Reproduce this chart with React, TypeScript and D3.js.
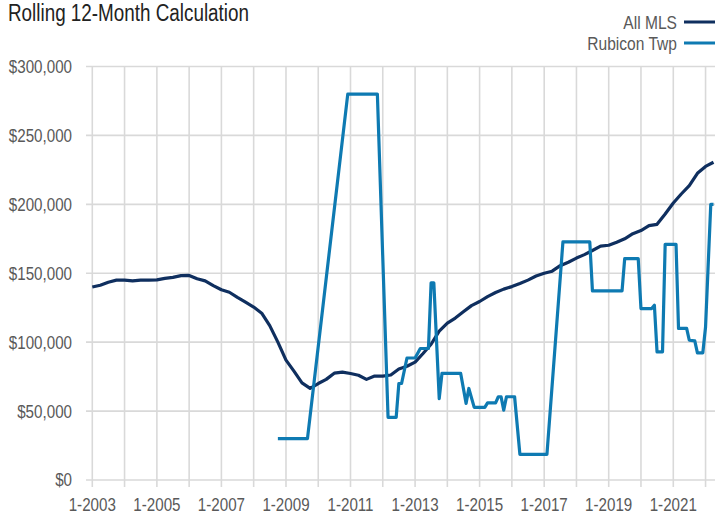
import { useEffect, useRef } from 'react'
import * as d3 from 'd3'

// Rolling 12-month average sale price
const MLS_POINTS: [string, number][] = [
  ['2003-01', 140000], ['2003-04', 141300], ['2003-07', 143500], ['2003-10', 145000],
  ['2004-01', 145000], ['2004-04', 144500], ['2004-07', 145000], ['2004-10', 145000],
  ['2005-01', 145200], ['2005-04', 146300], ['2005-07', 147000], ['2005-10', 148300],
  ['2006-01', 148400], ['2006-04', 146000], ['2006-07', 144500], ['2006-10', 141000],
  ['2007-01', 138000], ['2007-04', 136200], ['2007-07', 132500], ['2007-10', 129000],
  ['2008-01', 125500], ['2008-04', 121000], ['2008-07', 112000], ['2008-10', 100000],
  ['2009-01', 87000], ['2009-04', 79000], ['2009-07', 70500], ['2009-10', 66500],
  ['2010-01', 70000], ['2010-04', 73000], ['2010-07', 77500], ['2010-10', 78300],
  ['2011-01', 77300], ['2011-04', 76000], ['2011-07', 73000], ['2011-10', 75400],
  ['2012-01', 75400], ['2012-04', 76200], ['2012-07', 80500], ['2012-10', 82500],
  ['2013-01', 85500], ['2013-04', 91800], ['2013-07', 98500], ['2013-10', 108000],
  ['2014-01', 113800], ['2014-04', 117500], ['2014-07', 122000], ['2014-10', 126500],
  ['2015-01', 129500], ['2015-04', 133000], ['2015-07', 136000], ['2015-10', 138500],
  ['2016-01', 140300], ['2016-04', 142500], ['2016-07', 145000], ['2016-10', 148000],
  ['2017-01', 150000], ['2017-04', 151500], ['2017-07', 155500], ['2017-10', 158000],
  ['2018-01', 161000], ['2018-04', 163500], ['2018-07', 166500], ['2018-10', 169700],
  ['2019-01', 170300], ['2019-04', 172500], ['2019-07', 175000], ['2019-10', 178700],
  ['2020-01', 181000], ['2020-04', 184500], ['2020-07', 185500], ['2020-10', 193000],
  ['2021-01', 201000], ['2021-04', 207500], ['2021-07', 213500], ['2021-10', 222500],
  ['2022-01', 227500], ['2022-04', 230500],
]

// Rubicon Twp: sparse months, Excel joins the gaps with straight segments
const RUBICON_POINTS: [string, number][] = [
  ['2008-10', 30000], ['2009-09', 30000], ['2010-12', 280000], ['2011-11', 280000],
  ['2012-03', 45500], ['2012-06', 45500], ['2012-07', 70000], ['2012-08', 70000],
  ['2012-10', 88500], ['2013-01', 88500], ['2013-03', 95400], ['2013-06', 95400],
  ['2013-07', 143000], ['2013-08', 143000], ['2013-10', 59000], ['2013-11', 77300],
  ['2014-06', 77300], ['2014-08', 55600], ['2014-09', 66400], ['2014-11', 52700],
  ['2015-03', 52700], ['2015-04', 56000], ['2015-07', 56000], ['2015-08', 60400],
  ['2015-09', 60400], ['2015-10', 50700], ['2015-11', 60400], ['2016-02', 60400],
  ['2016-04', 18600], ['2017-02', 18600], ['2017-08', 172700], ['2018-06', 172700],
  ['2018-07', 137200], ['2019-06', 137200], ['2019-07', 160600], ['2019-12', 160600],
  ['2020-01', 124400], ['2020-05', 124400], ['2020-06', 126800], ['2020-07', 93000],
  ['2020-09', 93000], ['2020-10', 171000], ['2021-02', 171000], ['2021-03', 110000],
  ['2021-06', 110000], ['2021-07', 101400], ['2021-09', 101000], ['2021-10', 92200],
  ['2021-12', 92200], ['2022-01', 111000], ['2022-03', 200000], ['2022-04', 200000],
]

const Y_TICKS = [0, 50000, 100000, 150000, 200000, 250000, 300000]
const X_LABEL_YEARS = [2003, 2005, 2007, 2009, 2011, 2013, 2015, 2017, 2019, 2021]
const GRID_YEARS = d3.range(2003, 2023)

const SERIES = [
  { label: 'All MLS', color: '#0f2f5f', points: MLS_POINTS },
  { label: 'Rubicon Twp', color: '#0e7ab2', points: RUBICON_POINTS },
]

const W = 715
const H = 515
// no narrow face installed: squeeze Liberation Sans (Arial metrics) horizontally
const FONT = '"Liberation Sans", Arial, sans-serif'
const NARROW = 0.82

const parseMonth = d3.utcParse('%Y-%m')

type Sel = d3.Selection<SVGSVGElement, unknown, null, undefined>

function narrowText(
  svg: Sel, tx: number, ty: number, str: string,
  size: number, fill: string, anchor = 'start', dy = '0'
) {
  svg.append('text')
    .attr('transform', `translate(${tx},${ty}) scale(${NARROW},1)`)
    .attr('dy', dy)
    .attr('text-anchor', anchor)
    .attr('font-family', FONT).attr('font-size', size)
    .attr('fill', fill)
    .text(str)
}

export default function App() {
  const svgRef = useRef<SVGSVGElement>(null)

  useEffect(() => {
    if (!svgRef.current) return
    const svg = d3.select(svgRef.current) as Sel
    svg.selectAll('*').remove()

    // ── Scales ─────────────────────────────────────────────────────────────
    const x = d3.scaleUtc()
      .domain([Date.UTC(2003, 0, 1), Date.UTC(2021, 0, 1)])
      .range([92.3, 673.3])
    const y = d3.scaleLinear().domain([0, 300000]).range([480, 66.5])

    svg.append('rect').attr('width', W).attr('height', H).attr('fill', '#fff')

    // ── Grid ───────────────────────────────────────────────────────────────
    const grid = svg.append('g').attr('stroke', '#d9d9d9').attr('stroke-width', 1.6)
    Y_TICKS.forEach((v) => {
      grid.append('line')
        .attr('x1', 86).attr('x2', W)
        .attr('y1', y(v)).attr('y2', y(v))
    })
    GRID_YEARS.forEach((yr) => {
      const gx = x(Date.UTC(yr, 0, 1))
      grid.append('line')
        .attr('x1', gx).attr('x2', gx)
        .attr('y1', y(300000)).attr('y2', 487)
    })

    // ── Axis labels ────────────────────────────────────────────────────────
    const fmt = d3.format('$,')
    Y_TICKS.forEach((v) => narrowText(svg, 72, y(v), fmt(v), 18.5, '#595959', 'end', '0.35em'))
    X_LABEL_YEARS.forEach((yr) =>
      narrowText(svg, x(Date.UTC(yr, 0, 1)), 511, `1-${yr}`, 18.5, '#595959', 'middle'))

    // ── Lines ──────────────────────────────────────────────────────────────
    const line = d3.line<[string, number]>()
      .x((d) => x(parseMonth(d[0]) as Date))
      .y((d) => y(d[1]))

    SERIES.forEach((s) => {
      svg.append('path')
        .datum(s.points)
        .attr('fill', 'none')
        .attr('stroke', s.color)
        .attr('stroke-width', 3.2)
        .attr('stroke-linejoin', 'round')
        .attr('d', line)
    })

    // ── Title + legend ─────────────────────────────────────────────────────
    narrowText(svg, 8, 21, 'Rolling 12-Month Calculation', 23, '#222')

    SERIES.forEach((s, i) => {
      const ly = 22 + i * 21
      narrowText(svg, 677, ly, s.label, 19, '#595959', 'end', '0.35em')
      svg.append('line')
        .attr('x1', 684).attr('x2', W + 2)
        .attr('y1', ly).attr('y2', ly)
        .attr('stroke', s.color).attr('stroke-width', 3.2)
    })
  }, [])

  return (
    <svg
      ref={svgRef}
      width={W}
      height={H}
      style={{ position: 'absolute', left: 0, top: 0, display: 'block' }}
    />
  )
}
